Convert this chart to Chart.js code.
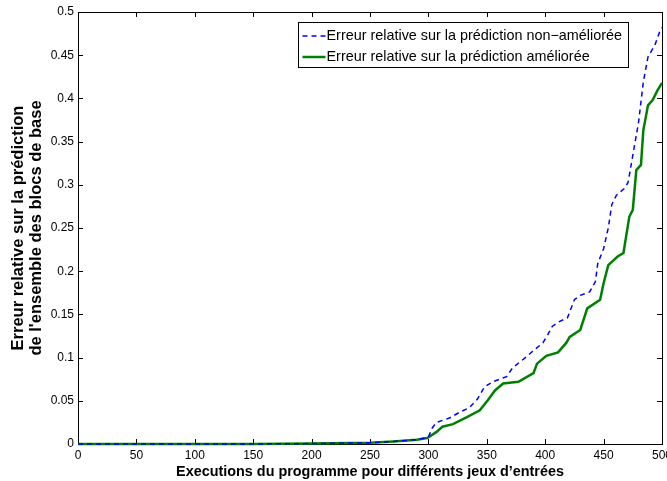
<!DOCTYPE html>
<html>
<head>
<meta charset="utf-8">
<script src="https://cdn.jsdelivr.net/npm/chart.js@4.4.0/dist/chart.umd.min.js"></script>
<style>
  html, body { margin: 0; padding: 0; background: #fff; }
  #wrap { width: 667px; height: 481px; }
</style>
</head>
<body>
<div id="wrap"><canvas id="chart" width="667" height="481"></canvas></div>
<script>
// values
let xBlue = [0, 50, 100, 150, 200, 250, 270, 290, 300, 303, 307, 318, 327, 335, 342, 348, 355, 367, 372, 383, 389, 398, 402, 406, 411, 419, 425, 430, 438, 443, 445, 450, 454, 457, 461, 468, 471, 475, 480, 484, 488, 494, 498, 500];
let yBlue = [0, 0, 0, 0, 0.0005, 0.0015, 0.003, 0.005, 0.008, 0.018, 0.025, 0.030, 0.037, 0.042, 0.052, 0.066, 0.072, 0.078, 0.088, 0.100, 0.107, 0.117, 0.126, 0.136, 0.141, 0.146, 0.167, 0.172, 0.176, 0.188, 0.209, 0.226, 0.250, 0.277, 0.288, 0.296, 0.303, 0.334, 0.373, 0.419, 0.448, 0.462, 0.477, 0.482];

let xGreen = [0, 50, 100, 150, 200, 250, 270, 290, 299, 307, 312, 321, 333, 344, 351, 357, 364, 377, 390, 393, 401, 411, 418, 421, 430, 436, 447, 450, 454, 462, 467, 472, 475, 478, 482, 484, 488, 492, 496, 500];
let yGreen = [0, 0, 0, 0, 0.0005, 0.0015, 0.003, 0.005, 0.007, 0.014, 0.020, 0.023, 0.031, 0.039, 0.051, 0.062, 0.070, 0.072, 0.082, 0.093, 0.102, 0.106, 0.117, 0.124, 0.132, 0.157, 0.167, 0.186, 0.207, 0.217, 0.221, 0.263, 0.271, 0.317, 0.323, 0.363, 0.392, 0.398, 0.409, 0.418];

let xTicks = [0, 50, 100, 150, 200, 250, 300, 350, 400, 450, 500];
let yTicks = [0, 0.05, 0.1, 0.15, 0.2, 0.25, 0.3, 0.35, 0.4, 0.45, 0.5];
let yTickLabels = ["0", "0.05", "0.1", "0.15", "0.2", "0.25", "0.3", "0.35", "0.4", "0.45", "0.5"];

let seriesNames = ["Erreur relative sur la prédiction non\u2212améliorée", "Erreur relative sur la prédiction améliorée"];
let xTitle = "Executions du programme pour différents jeux d\u2019entrées";
let yTitle = ["Erreur relative sur la prédiction", "de l'ensemble des blocs de base"];

let FONT = "'Liberation Sans', Arial, Helvetica, sans-serif";

function toPoints(xs, ys) {
    return xs.map((x, i) => ({ x: x, y: ys[i] }));
}

// frame box with inward ticks on every side (matlab look)
let framePlugin = {
    id: "frame",
    beforeDatasetsDraw(chart) {
        let ctx = chart.ctx;
        let a = chart.chartArea;
        let xs = chart.scales.x, ys = chart.scales.y;
        ctx.save();
        ctx.strokeStyle = "#000";
        ctx.lineWidth = 1;
        ctx.beginPath();
        xTicks.forEach(v => {
            let px = Math.round(xs.getPixelForValue(v)) + 0.5;
            ctx.moveTo(px, a.bottom); ctx.lineTo(px, a.bottom - 5);
            ctx.moveTo(px, a.top); ctx.lineTo(px, a.top + 5);
        });
        yTicks.forEach(v => {
            let py = Math.round(ys.getPixelForValue(v)) + 0.5;
            ctx.moveTo(a.left, py); ctx.lineTo(a.left + 5, py);
            ctx.moveTo(a.right, py); ctx.lineTo(a.right - 5, py);
        });
        ctx.stroke();
        ctx.strokeRect(Math.round(a.left) + 0.5, Math.round(a.top) + 0.5,
            Math.round(a.right - a.left), Math.round(a.bottom - a.top));
        ctx.restore();
    }
};

let legendPlugin = {
    id: "boxLegend",
    afterDraw(chart) {
        let ctx = chart.ctx;
        let bx = 298.5, by = 22.5, bw = 330, bh = 45;
        ctx.save();
        ctx.fillStyle = "#fff";
        ctx.fillRect(bx, by, bw, bh);
        ctx.strokeStyle = "#000";
        ctx.lineWidth = 1;
        ctx.strokeRect(bx, by, bw, bh);
        ctx.font = "14.4px " + FONT;
        ctx.textBaseline = "middle";
        chart.data.datasets.forEach((ds, i) => {
            let y = by + 13.5 + i * 21;
            ctx.strokeStyle = ds.borderColor;
            ctx.lineWidth = ds.borderWidth;
            ctx.setLineDash(ds.borderDash || []);
            ctx.beginPath();
            ctx.moveTo(bx + 4, y);
            ctx.lineTo(bx + 27, y);
            ctx.stroke();
            ctx.setLineDash([]);
            ctx.fillStyle = "#000";
            ctx.fillText(seriesNames[i], bx + 28, y);
        });
        ctx.restore();
    }
};

let chart = new Chart(document.getElementById("chart"), {
    type: "line",
    data: {
        datasets: [{
            label: seriesNames[0],
            data: toPoints(xBlue, yBlue),
            borderColor: "#0000ff",
            borderWidth: 1.5,
            borderDash: [5, 4],
            pointRadius: 0,
            tension: 0,
            clip: 4
        }, {
            label: seriesNames[1],
            data: toPoints(xGreen, yGreen),
            borderColor: "#008000",
            borderWidth: 2.5,
            pointRadius: 0,
            tension: 0,
            clip: 4
        }]
    },
    options: {
        responsive: false,
        animation: false,
        layout: { padding: { left: 0, right: 5, top: 12, bottom: 0 } },
        plugins: {
            legend: { display: false },
            tooltip: { enabled: false }
        },
        scales: {
            x: {
                type: "linear",
                min: 0,
                max: 500,
                afterBuildTicks: s => { s.ticks = xTicks.map(v => ({ value: v })); },
                afterFit: s => { s.height = 37; s.paddingLeft = 0; s.paddingRight = 0; },
                grid: { display: false, drawTicks: false },
                border: { display: false },
                ticks: {
                    color: "#000",
                    padding: 4,
                    maxRotation: 0,
                    autoSkip: false,
                    font: { family: FONT, size: 12 }
                },
                title: {
                    display: true,
                    text: xTitle,
                    color: "#000",
                    padding: { top: 0, bottom: 0 },
                    font: { family: FONT, size: 14.4, weight: "bold", lineHeight: 1.2 }
                }
            },
            y: {
                min: 0,
                max: 0.5,
                afterBuildTicks: s => { s.ticks = yTicks.map(v => ({ value: v })); },
                afterFit: s => { s.width = 78; s.paddingTop = 0; s.paddingBottom = 0; },
                grid: { display: false, drawTicks: false },
                border: { display: false },
                ticks: {
                    color: "#000",
                    padding: 4,
                    autoSkip: false,
                    font: { family: FONT, size: 12 },
                    callback: (v, i) => yTickLabels[i]
                },
                title: {
                    display: true,
                    text: yTitle,
                    color: "#000",
                    padding: { top: 9, bottom: 0 },
                    font: { family: FONT, size: 16.5, weight: "bold", lineHeight: 1.1 }
                }
            }
        }
    },
    plugins: [framePlugin, legendPlugin]
});
</script>
</body>
</html>
